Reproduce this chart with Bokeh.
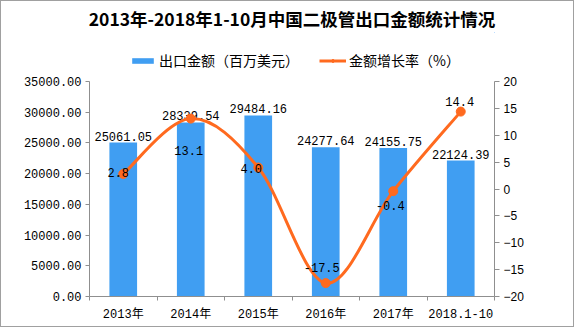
from bokeh.plotting import figure
from bokeh.layouts import column
from bokeh.models import (Range1d, LinearAxis, FixedTicker, NumeralTickFormatter,
                          ColumnDataSource, Legend, LegendItem)
from bokeh.core.properties import value
from bokeh.embed import file_html
from bokeh.resources import INLINE

# ---------------- data ----------------
years = ["2013年", "2014年", "2015年", "2016年", "2017年", "2018.1-10"]
export_value = [25061.05, 28339.54, 29484.16, 24277.64, 24155.75, 22124.39]
growth = [2.8, 13.1, 4.0, -17.5, -0.4, 14.4]
left_ticks = [0, 5000, 10000, 15000, 20000, 25000, 30000, 35000]
right_ticks = [-20, -15, -10, -5, 0, 5, 10, 15, 20]
title_text = "2013年-2018年1-10月中国二极管出口金额统计情况"
legend_labels = ["出口金额（百万美元）", "金额增长率（%）"]

# ---------------- styles ----------------
BLUE = "#409EF2"
ORANGE = "#FF6A1F"
AXIS = "#8f8f8f"
MONO = "'Liberation Mono', 'Noto Sans CJK SC'"
CJK = "'Noto Sans CJK SC'"
# pixel offsets of growth labels relative to their markers
g_dx = [-5, -2, -7, -4, -3, -1]
g_dy = [-1, 32, 1, -16, 14, -10]

n = len(years)
centers = [i + 0.5 for i in range(n)]
bounds = [i for i in range(n + 1)]

W = 574
TOP_H = 72

src = ColumnDataSource(dict(x=centers, v=export_value,
                            lab=["%.2f" % v for v in export_value],
                            g=growth, glab=["%.1f" % g for g in growth],
                            dx=g_dx, dy=g_dy))

# ---------------- header figure: title + legend ----------------
head = figure(width=W, height=TOP_H, output_backend="svg", toolbar_location=None,
              x_range=Range1d(-100, -99), y_range=Range1d(-100, -99),
              x_axis_type=None, y_axis_type=None,
              min_border_left=88, min_border_right=79, min_border_top=31, min_border_bottom=0)
head.outline_line_color = None
head.xgrid.grid_line_color = None
head.ygrid.grid_line_color = None
head.border_fill_color = "white"
head.title.text = title_text
head.title.text_font = CJK
head.title.text_font_size = "17.5px"
head.title.text_font_style = "bold"
head.title.text_color = "black"
head.title.align = "center"
head.title.standoff = 4
# proxy renderers (same data, outside the header's visible range) for the legend
h_bar = head.vbar(x="x", top="v", bottom=0, width=0.41, source=src,
                  fill_color=BLUE, line_color=None)
h_line = head.line(x="x", y="g", source=src, line_color=ORANGE, line_width=3)
h_pt = head.scatter(x="x", y="g", source=src, size=8, fill_color=ORANGE,
                    line_color=ORANGE)
legend = Legend(items=[LegendItem(label=legend_labels[0], renderers=[h_bar]),
                       LegendItem(label=legend_labels[1], renderers=[h_line, h_pt])],
                orientation="horizontal", location=(40, 3),
                glyph_width=27, glyph_height=7, label_height=20,
                label_standoff=3, spacing=20, padding=0, margin=0,
                border_line_color=None, background_fill_alpha=0,
                label_text_font=CJK, label_text_font_size="14px",
                label_text_color="black")
head.add_layout(legend, "center")

# ---------------- main chart ----------------
p = figure(width=W, height=325 - TOP_H, output_backend="svg", toolbar_location=None,
           x_range=Range1d(0, n), y_range=Range1d(left_ticks[0], left_ticks[-1]),
           min_border_left=88, min_border_right=79, min_border_top=80 - TOP_H,
           min_border_bottom=30)
p.outline_line_color = None
p.xgrid.grid_line_color = None
p.ygrid.grid_line_color = None
p.background_fill_color = "white"
p.border_fill_color = "white"

p.extra_y_ranges = {"pct": Range1d(right_ticks[0], right_ticks[-1])}

# left axis
ya = p.yaxis[0]
ya.ticker = FixedTicker(ticks=left_ticks, minor_ticks=[])
ya.formatter = NumeralTickFormatter(format="0.00")
ya.axis_line_color = AXIS
ya.major_tick_line_color = AXIS
ya.major_tick_out = 4
ya.major_tick_in = 0
ya.minor_tick_line_color = None
ya.major_label_text_font = MONO
ya.major_label_text_font_size = "12px"
ya.major_label_text_color = "black"
ya.major_label_standoff = 4

# right axis
ra = LinearAxis(y_range_name="pct")
ra.ticker = FixedTicker(ticks=right_ticks, minor_ticks=[])
ra.axis_line_color = AXIS
ra.major_tick_line_color = AXIS
ra.major_tick_out = 5
ra.major_tick_in = 0
ra.minor_tick_line_color = None
ra.major_label_text_font = "Liberation Sans"
ra.major_label_text_font_size = "12px"
ra.major_label_text_color = "black"
ra.major_label_standoff = 4
p.add_layout(ra, "right")

# x axis
xa = p.xaxis[0]
xa.ticker = FixedTicker(ticks=centers, minor_ticks=bounds)
xa.major_label_overrides = {c: y for c, y in zip(centers, years)}
xa.axis_line_color = AXIS
xa.major_tick_line_color = None
xa.major_tick_out = 0
xa.major_tick_in = 0
xa.minor_tick_line_color = AXIS
xa.minor_tick_out = 4
xa.minor_tick_in = 0
xa.major_label_text_font = MONO
xa.major_label_text_font_size = "12px"
xa.major_label_text_color = "black"
xa.major_label_standoff = 7

# bars
p.vbar(x="x", top="v", bottom=0, width=0.41, source=src,
       fill_color=BLUE, line_color=None)
p.text(x="x", y="v", text="lab", source=src, text_align="center",
       text_baseline="bottom", y_offset=-2, text_font=value(MONO),
       text_font_size="12px", text_color="black")

# smooth growth line (cubic bezier segments, Catmull-Rom control points)
x0s, y0s, x1s, y1s, cx0, cy0, cx1, cy1 = [], [], [], [], [], [], [], []
for i in range(n - 1):
    pm = (centers[max(i - 1, 0)], growth[max(i - 1, 0)])
    pa = (centers[i], growth[i])
    pb = (centers[i + 1], growth[i + 1])
    pn = (centers[min(i + 2, n - 1)], growth[min(i + 2, n - 1)])
    x0s.append(pa[0]); y0s.append(pa[1])
    x1s.append(pb[0]); y1s.append(pb[1])
    cx0.append(pa[0] + (pb[0] - pm[0]) / 6); cy0.append(pa[1] + (pb[1] - pm[1]) / 6)
    cx1.append(pb[0] - (pn[0] - pa[0]) / 6); cy1.append(pb[1] - (pn[1] - pa[1]) / 6)
p.bezier(x0=x0s, y0=y0s, x1=x1s, y1=y1s, cx0=cx0, cy0=cy0, cx1=cx1, cy1=cy1,
         line_color=ORANGE, line_width=3, y_range_name="pct")
p.scatter(x="x", y="g", source=src, size=9, fill_color=ORANGE,
          line_color=ORANGE, y_range_name="pct")
p.text(x="x", y="g", text="glab", source=src, x_offset="dx", y_offset="dy",
       text_align="center", text_baseline="middle", text_font=value(MONO),
       text_font_size="12px", text_color="black", y_range_name="pct")

layout = column(head, p, spacing=0)
layout.styles = {"border": "1px solid #a0a0a0", "width": "574px"}

open("out.html", "w").write(file_html(layout, INLINE))
